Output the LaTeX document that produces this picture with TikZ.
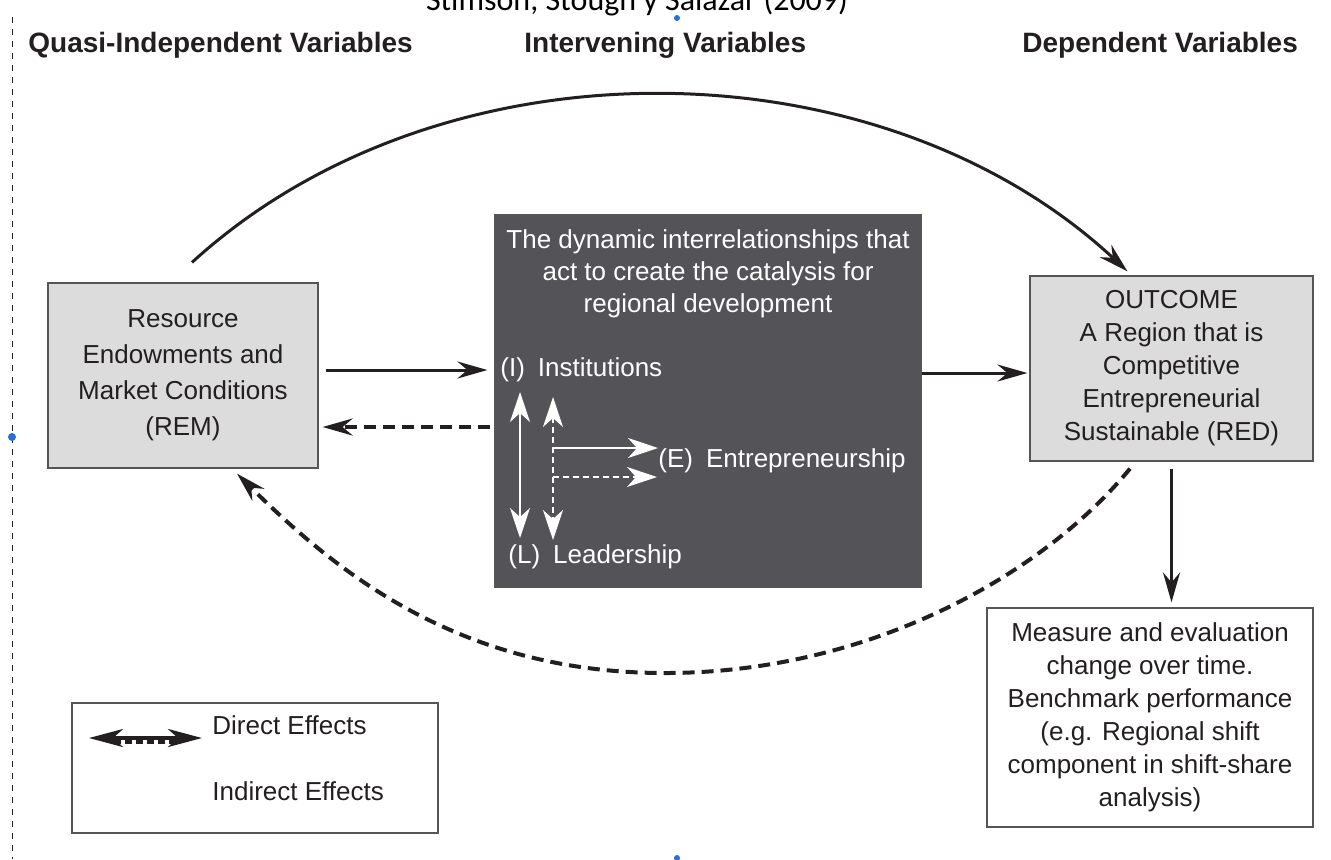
\documentclass[tikz,border=0pt]{standalone}
\usepackage{fontspec}
\setmainfont{Liberation Sans}
\newfontfamily\titlefont{Carlito}
\usetikzlibrary{arrows.meta,calc}

\definecolor{boxgray}{RGB}{220,220,220}
\definecolor{darkbox}{RGB}{84,83,88}
\definecolor{edgegray}{RGB}{85,85,85}
\definecolor{ink}{RGB}{35,31,32}
\definecolor{handle}{RGB}{40,110,220}

\tikzset{
	blacktip/.tip={Stealth[length=15pt,width=8.5pt,inset=5pt]},
	whitetip/.tip={Stealth[length=15pt,width=10pt,inset=4.5pt]},
	varbox/.style={draw=edgegray, line width=0.6pt, fill=boxgray, align=center, inner sep=0pt, text=ink},
	effect/.style={ink, line width=1.5pt, -{blacktip}},
	indirect/.style={ink, line width=2pt, dash pattern=on 6pt off 3.5pt, -{blacktip}},
	inner/.style={white, line width=0.9pt},
	innerdash/.style={white, line width=0.7pt, dash pattern=on 3pt off 2pt},
	header/.style={anchor=base west, inner sep=0pt, text=ink, font=\bfseries\fontsize{14}{16}\selectfont},
	label/.style={anchor=west, inner sep=0pt, text=white, font=\fontsize{13}{16}\selectfont},
}

\begin{document}
\begin{tikzpicture}[x=0.5pt, y=-0.5pt]
	\useasboundingbox (0,0) rectangle (1331,859);

	% title and column headers
	\node (title) at (637,10) [anchor=base, inner sep=0pt, font=\titlefont\fontsize{16}{18}\selectfont] {Stimson, Stough y Salazar (2009)};
	\node (hq) at (28,52) [header] {Quasi-Independent Variables};
	\node (hi) at (524,52) [header] {Intervening Variables};
	\node (hd) at (1022,52) [header] {Dependent Variables};

	% boxes
	\node (rem) at (183,375.5) [varbox, minimum width=135pt, minimum height=92.5pt, font=\fontsize{13}{18}\selectfont]
		{Resource\\Endowments and\\Market Conditions\\(REM)};
	\node (dyn) at (708,401) [fill=darkbox, draw=edgegray, line width=0.6pt, minimum width=213pt, minimum height=186pt] {};
	\node (dyntitle) at (708,274) [align=center, inner sep=0pt, text=white, font=\fontsize{13}{16}\selectfont]
		{The dynamic interrelationships that\\act to create the catalysis for\\regional development};
	\node (red) at (1171.5,368.5) [varbox, minimum width=141.5pt, minimum height=92.5pt, font=\fontsize{13}{16.5}\selectfont]
		{OUTCOME\\A Region that is\\Competitive\\Entrepreneurial\\Sustainable (RED)};
	\node (meas) at (1150,717.5) [varbox, fill=white, minimum width=163pt, minimum height=109.5pt, font=\fontsize{13}{16.5}\selectfont]
		{Measure and evaluation\\change over time.\\Benchmark performance\\(e.g. Regional shift\\component in shift-share\\analysis)};

	% the three intervening variables
	\node (inst) at (500,370) [label] {(I)\enspace Institutions};
	\node (entr) at (658,461) [label] {(E)\enspace Entrepreneurship};
	\node (lead) at (508,557) [label] {(L)\enspace Leadership};

	\coordinate (sa) at (520,392);
	\coordinate (sb) at (520,538);
	\coordinate (da) at (553,397);
	\coordinate (db) at (553,540);
	\coordinate (sh) at (553,448);
	\coordinate (dh) at (553,477);
	\draw[inner, {whitetip}-{whitetip}] (sa) -- (sb);
	\draw[innerdash, {whitetip[white]}-{whitetip[white]}] (da) -- (db);
	\draw[inner, -{whitetip}] (sh) -- (sh -| entr.west);
	\draw[innerdash, -{whitetip}] (dh) -- ($(dh -| entr.west)+(-1,0)$);

	% effects between the boxes
	\coordinate (remback) at ([yshift=-25.75pt]rem.east);
	\coordinate (redin) at ([yshift=-2.25pt]red.west);
	\draw[effect, shorten <=3.5pt, shorten >=3.5pt] (rem.east |- inst.west) -- (dyn.west |- inst.west);
	\draw[indirect, shorten <=2pt, shorten >=2pt] (dyn.west |- remback) -- (remback);
	\draw[effect, shorten >=1pt] (dyn.east |- redin) -- (redin);
	\draw[effect, shorten <=3.5pt, shorten >=2.5pt] (red.south) -- (meas.north -| red.south);

	\draw[effect] ([shift={(4.5pt,10pt)}]rem.north) .. controls (442,34) and (880,41) .. ([shift={(-22pt,2pt)}]red.north);
	\coordinate (low) at (665,673);
	\draw[indirect] ([shift={(-20.75pt,-3.5pt)}]red.south) .. controls (1040,578) and (865,673) .. (low)
		.. controls (465,673) and (342,578) .. ([shift={(27pt,-2.5pt)}]rem.south);

	% legend
	\node (legend) at (255,768) [draw=edgegray, line width=0.6pt, fill=white, minimum width=183pt, minimum height=65pt] {};
	\node (ldirect) at (212,725) [anchor=west, inner sep=0pt, text=ink, font=\fontsize{13}{16}\selectfont] {Direct Effects};
	\node (lindirect) at (212,791) [anchor=west, inner sep=0pt, text=ink, font=\fontsize{13}{16}\selectfont] {Indirect Effects};
	\coordinate (la) at (89,738);
	\coordinate (lb) at (202,738);
	\draw[ink, line width=2pt, {Stealth[length=17pt,width=9pt,inset=5pt]}-{Stealth[length=17pt,width=9pt,inset=5pt]}] (la) -- (lb);
	\draw[ink, line width=2pt, dash pattern=on 3.5pt off 2pt] ($(la)+(25,4)$) -- ($(lb)+(-25,4)$);

	% frame of the selected picture
	\draw[ink, line width=0.5pt, dash pattern=on 3pt off 3pt] (12,17) -- (12,859);
	\fill[handle] (12,437) circle (2pt);
	\fill[handle] (677,18) circle (1.5pt);
	\fill[handle] (677,858) circle (1.5pt);
\end{tikzpicture}
\end{document}
